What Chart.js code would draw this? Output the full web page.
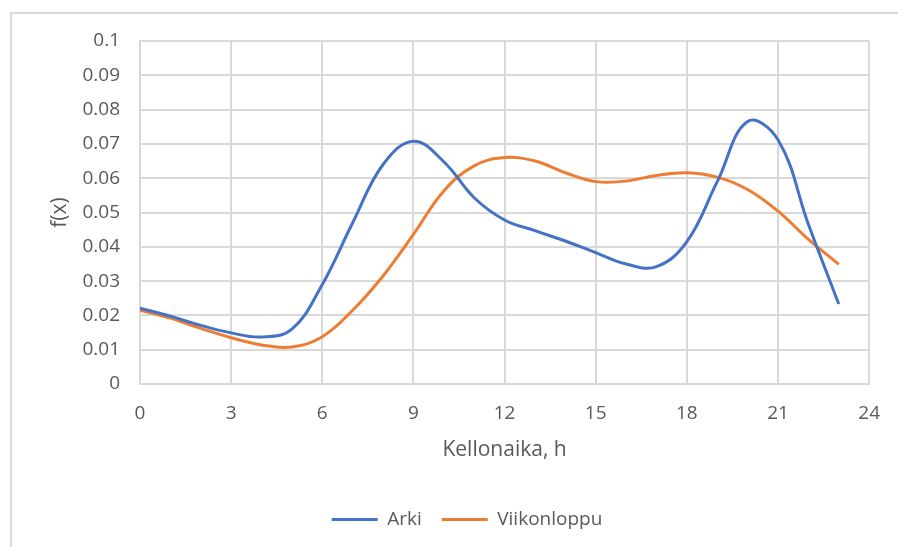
<!DOCTYPE html>
<html>
<head>
<meta charset="utf-8">
<script src="https://cdn.jsdelivr.net/npm/chart.js@4.4.1/dist/chart.umd.min.js"></script>
<style>
  html, body { margin: 0; padding: 0; background: #fff; overflow: hidden; }
  #frame {
    position: absolute; left: 10px; top: 12px; width: 1000px; height: 1000px;
    border: 2px solid #d9d9d9; box-sizing: border-box;
  }
  #wrap { position: absolute; left: 0; top: 0; width: 898px; height: 547px; }
</style>
</head>
<body>
<div id="frame"></div>
<div id="wrap"><canvas id="chart" width="898" height="547"></canvas></div>
<script>
// hours of the day
const hours = [0, 1, 2, 3, 4, 5, 6, 7, 8, 9, 10, 11, 12, 13, 14, 15, 16, 17, 18, 19, 20, 21, 22, 23];

// weekday density
const arki = [0.0221, 0.0198, 0.0171, 0.0149, 0.0137, 0.0160, 0.0290, 0.0470, 0.0640, 0.0708,
  0.0648, 0.0543, 0.0478, 0.0447, 0.0417, 0.0383, 0.0350, 0.0342, 0.0415, 0.0590,
  0.0765, 0.0712, 0.0466, 0.0233];

// weekend density
const viikonloppu = [0.0215, 0.0192, 0.0162, 0.0135, 0.0114, 0.0108, 0.0138, 0.0215, 0.0315, 0.0436,
  0.0563, 0.0636, 0.0660, 0.0650, 0.0616, 0.0590, 0.0592, 0.0608, 0.0616, 0.0603,
  0.0567, 0.0504, 0.0422, 0.0349];

const xTicks = [0, 3, 6, 9, 12, 15, 18, 21, 24];
const yTicks = ["0", "0.01", "0.02", "0.03", "0.04", "0.05", "0.06", "0.07", "0.08", "0.09", "0.1"];

const FONT = "'Open Sans', 'Noto Sans', sans-serif";
const TEXT = "#595959";
const GRID = "#d9d9d9";

const toPoints = (ys) => hours.map((h, i) => ({ x: h, y: ys[i] }));

new Chart(document.getElementById("chart").getContext("2d"), {
  type: "line",
  data: {
    datasets: [
      {
        label: "Arki",
        data: toPoints(arki),
        borderColor: "#4472C4",
        backgroundColor: "#4472C4",
        borderWidth: 3,
        pointRadius: 0,
        tension: 0.4,
      },
      {
        label: "Viikonloppu",
        data: toPoints(viikonloppu),
        borderColor: "#ED7D31",
        backgroundColor: "#ED7D31",
        borderWidth: 3,
        pointRadius: 0,
        tension: 0.4,
      },
    ],
  },
  options: {
    responsive: false,
    animation: false,
    layout: { padding: { left: 56, right: 20, top: 41, bottom: 8 } },
    plugins: {
      tooltip: { enabled: false },
      legend: {
        position: "bottom",
        labels: {
          usePointStyle: true,
          pointStyle: "line",
          pointStyleWidth: 46,
          color: TEXT,
          font: { family: FONT, size: 19 },
          padding: 20,
        },
      },
    },
    scales: {
      x: {
        type: "linear",
        min: 0,
        max: 24,
        afterBuildTicks: (scale) => { scale.ticks = xTicks.map((v) => ({ value: v })); },
        ticks: { color: TEXT, font: { family: FONT, size: 19 }, padding: 18, maxRotation: 0 },
        grid: { color: GRID, lineWidth: 2, drawTicks: false },
        border: { color: GRID, width: 2 },
        title: {
          display: true,
          text: "Kellonaika, h",
          color: TEXT,
          font: { family: FONT, size: 21 },
          padding: { top: 0, bottom: 27 },
        },
        afterFit: (scale) => { scale.height = 106; },
      },
      y: {
        min: 0,
        max: 0.1,
        ticks: {
          stepSize: 0.01,
          color: TEXT,
          font: { family: FONT, size: 19 },
          padding: 20,
          callback: (v) => yTicks[Math.round(v * 100)],
        },
        grid: { color: GRID, lineWidth: 2, drawTicks: false },
        border: { color: GRID, width: 2 },
        title: {
          display: true,
          text: "f(x)",
          color: TEXT,
          font: { family: FONT, size: 21 },
          padding: { top: -9, bottom: 0 },
        },
        afterFit: (scale) => { scale.width = 84; },
      },
    },
  },
});
</script>
</body>
</html>
